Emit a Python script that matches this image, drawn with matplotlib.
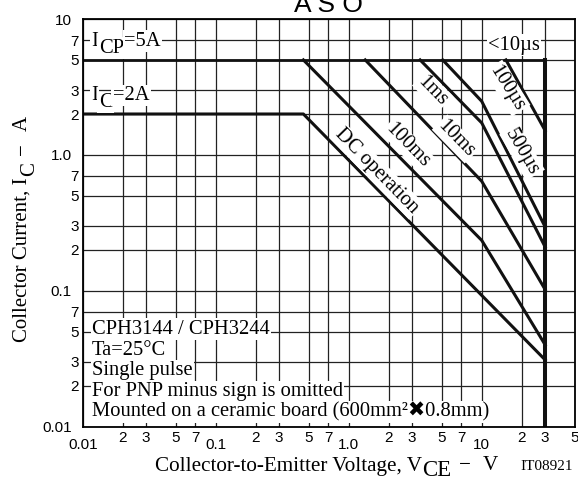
#ASO (safe operating area) chart, log-log

import matplotlib
matplotlib.use("Agg")
import matplotlib.pyplot as plt

# ----------- data ----------- #
# each pulse line: collector-emitter voltage (V) and collector current (A)
dc_v = [0.01, 0.456, 30]
dc_i = [2, 2, 0.031]
ms100_v = [0.456, 10, 30]
ms100_i = [5, 0.235, 0.04]
ms10_v = [1.33, 10, 30]
ms10_i = [5, 0.64, 0.102]
ms1_v = [3.44, 10, 30]
ms1_i = [5, 1.72, 0.21]
us500_v = [5.09, 10, 30]
us500_i = [5, 2.48, 0.295]
us100_v = [15.2, 30]
us100_i = [5, 1.51]
us10_v = [0.01, 30, 30]
us10_i = [5, 5, 0.01]

x_major = [0.01, 0.1, 1, 10]
x_major_labels = ['0.01', '0.1', '1.0', '10']
x_minor = [0.02, 0.03, 0.05, 0.07, 0.2, 0.3, 0.5, 0.7, 2, 3, 5, 7, 20, 30, 50]
x_minor_labels = ['2', '3', '5', '7', '2', '3', '5', '7', '2', '3', '5', '7', '2', '3', '5']
y_major = [0.01, 0.1, 1, 10]
y_major_labels = ['0.01', '0.1', '1.0', '10']
y_minor = [0.02, 0.03, 0.05, 0.07, 0.2, 0.3, 0.5, 0.7, 2, 3, 5, 7]
y_minor_labels = ['2', '3', '5', '7'] * 3

notes = ['CPH3144 / CPH3244',
         'Ta=25\u00b0C',
         'Single pulse',
         'For PNP minus sign is omitted',
         'Mounted on a ceramic board (600mm\u00b2\u27160.8mm)']

serif = ['Liberation Serif', 'DejaVu Sans']
sans = 'Liberation Sans'
W, H = 578, 479

fig = plt.figure(figsize=(5.78, 4.79), dpi=100)
ax = fig.add_axes([0.1431, 0.1092, 0.8512, 0.8511])
ax.set_xscale('log')
ax.set_yscale('log')
ax.set_xlim(0.01, 50)
ax.set_ylim(0.01, 10)

ax.set_xticks(x_major, x_major_labels, family=sans, fontsize=11)
ax.set_xticks(x_minor, x_minor_labels, minor=True, family=sans, fontsize=11)
ax.set_yticks(y_major, y_major_labels, family=sans, fontsize=11)
ax.set_yticks(y_minor, y_minor_labels, minor=True, family=sans, fontsize=11)
ax.tick_params(which='both', length=0)
ax.tick_params(axis='x', which='major', pad=8)
ax.tick_params(axis='x', which='minor', pad=3)
ax.tick_params(axis='y', which='major', pad=8)
ax.tick_params(axis='y', which='minor', pad=3)

ax.set_axisbelow(True)
ax.grid(which='both', color='#222222', lw=0.9)
for s in ax.spines.values():
    s.set_linewidth(1.3)

# boundary lines
lw = 2.2
ax.plot(dc_v, dc_i, color='#111111', lw=lw)
ax.plot(ms100_v, ms100_i, color='#111111', lw=lw)
ax.plot(ms10_v, ms10_i, color='#111111', lw=lw)
ax.plot(ms1_v, ms1_i, color='#111111', lw=lw)
ax.plot(us500_v, us500_i, color='#111111', lw=lw)
ax.plot(us100_v, us100_i, color='#111111', lw=lw)
ax.plot(us10_v[:2], us10_i[:2], color='#111111', lw=2.0)
ax.plot(us10_v[1:], us10_i[1:], color='#111111', lw=2.9)

box = dict(facecolor='white', edgecolor='none', pad=1)
renderer = fig.canvas.get_renderer()


def pieces_text(x_px, y_px, pieces, size, rotation=0, **kw):
    """write text made of pieces (text, drop px, gap before px, size or None),
    so subscripts can keep full size like in the datasheet"""
    pos = 0
    for s, drop, gap, fs in pieces:
        pos += gap
        if rotation == 0:
            tx, ty = x_px + pos, y_px + drop
        else:
            tx, ty = x_px + drop, y_px - pos
        t = fig.text(tx / W, 1 - ty / H, s, rotation=rotation, ha='left',
                     va='baseline', rotation_mode='anchor',
                     fontsize=fs or size, **kw)
        bb = t.get_window_extent(renderer)
        pos += bb.width if rotation == 0 else bb.height


pieces_text(91, 45.7, [('I', 0, 0, None), ('CP', 7, 1, None), ('=5A', 0, 0, None)],
            14.8, family=serif, bbox=box, zorder=5)
pieces_text(91, 100, [('I', 0, 0, None), ('C', 7, 1, None), ('=2A', 0, 0, None)],
            14.8, family=serif, bbox=box, zorder=5)
ax.text(17.5, 5.95, '<10\u00b5s', family=serif, fontsize=14.8, ha='center', va='baseline', bbox=box)

# rotated labels along the lines
ax.text(1.63, 0.76, 'DC operation', family=serif, fontsize=14.8, rotation=-45.7,
        ha='center', va='center', rotation_mode='anchor', bbox=box)
ax.text(2.77, 1.18, '100ms', family=serif, fontsize=14.8, rotation=-45.7,
        ha='center', va='center', rotation_mode='anchor', bbox=box)
ax.text(6.41, 1.31, '10ms', family=serif, fontsize=14.8, rotation=-45.7,
        ha='center', va='center', rotation_mode='anchor', bbox=box)
ax.text(4.28, 2.95, '1ms', family=serif, fontsize=14.8, rotation=-45.7,
        ha='center', va='center', rotation_mode='anchor', bbox=box)
ax.text(15.5, 3.1, '100\u00b5s', family=serif, fontsize=14.8, rotation=-58,
        ha='center', va='center', rotation_mode='anchor', bbox=box)
ax.text(20.1, 1.05, '500\u00b5s', family=serif, fontsize=14.8, rotation=-60,
        ha='center', va='center', rotation_mode='anchor', bbox=box)

# notes block, bottom left (baselines)
base_y = [0.0482, 0.0339, 0.0239, 0.0168, 0.01186]
for txt, yy in zip(notes, base_y):
    ax.text(0.01175, yy, txt, family=serif, fontsize=14.8, va='baseline', bbox=box)

# axis titles
pieces_text(155, 470.5, [('Collector-to-Emitter Voltage, V', 0, 0, None), ('CE', 6, 0, 16.5),
                         ('\u2212', 0, 8, None), ('V', 0, 12, None)],
            15.2, family=serif)
pieces_text(27, 342, [('Collector Current, I', 0, 0, None), ('C', 7, 1, None),
                      ('\u2212', 0, 8, None), ('A', 0, 12, None)],
            15.0, rotation=90, family=serif)

fig.text(520 / W, 1 - 470 / H, 'IT08921', family=serif, fontsize=11, ha='left', va='baseline')
fig.text(328 / W, 1 - 12 / H, 'A S O', family=sans, fontsize=19, ha='center', va='baseline')

fig.savefig('out.png', dpi=100)
